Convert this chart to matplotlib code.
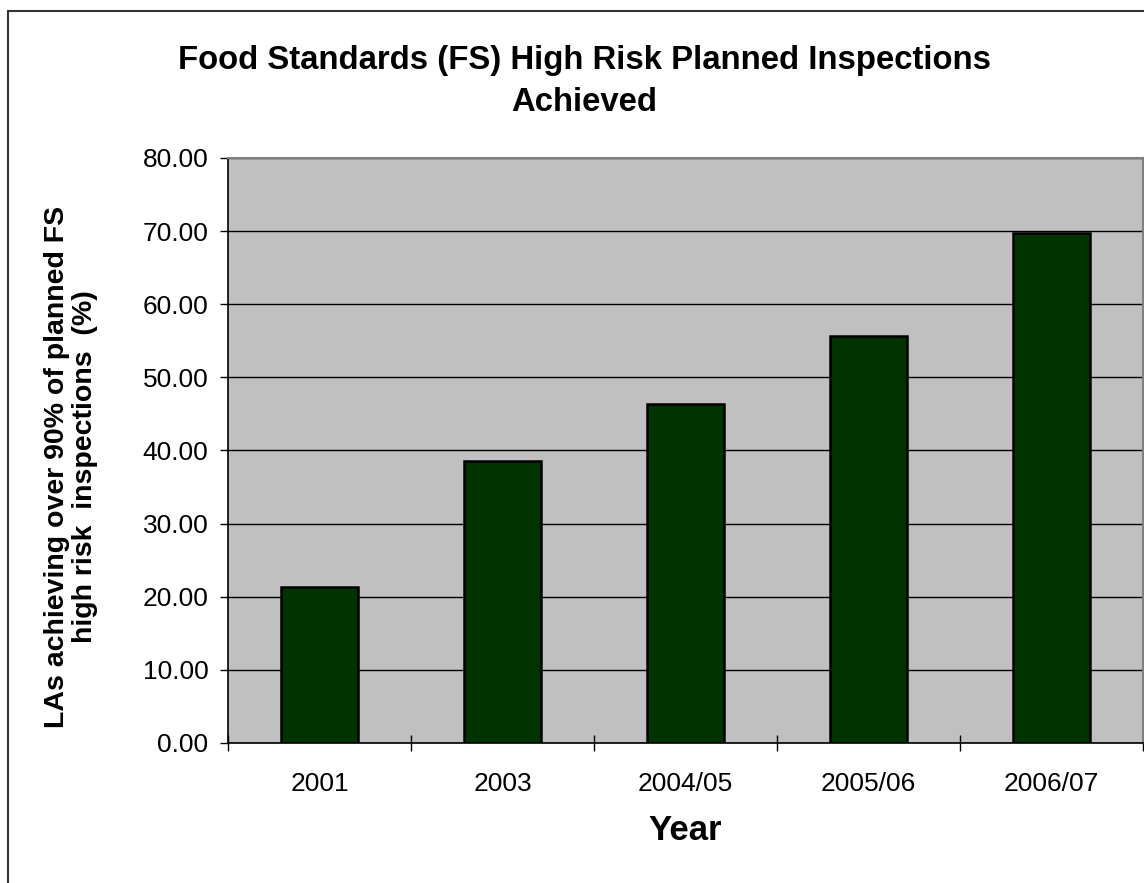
import matplotlib.pyplot as plt
from matplotlib.patches import Rectangle

plt.rcParams["font.family"] = ["Liberation Sans", "DejaVu Sans"]

# data
years = ["2001", "2003", "2004/05", "2005/06", "2006/07"]
pct = [21.3, 38.6, 46.4, 55.7, 69.8]

fig = plt.figure(figsize=(11.44, 8.83), dpi=100)
ax = fig.add_axes([0.1993, 0.1586, 0.7998, 0.6625])

# outer chart frame
fig.patches.append(Rectangle((8 / 1144, -0.1), 1.2, 1 - 11 / 883 + 0.1,
                             transform=fig.transFigure, fill=False,
                             edgecolor="#333333", linewidth=1.5))

ax.set_facecolor("#C0C0C0")
ax.bar(range(len(years)), pct, width=0.42, color="#003300",
       edgecolor="black", linewidth=1.8, zorder=3)

ax.set_ylim(0, 80)
ax.set_xlim(-0.5, len(years) - 0.5)
ax.set_yticks(range(0, 81, 10))
ax.set_yticklabels([f"{v:.2f}" for v in range(0, 81, 10)], fontsize=19)
ax.yaxis.grid(True, color="black", linewidth=1, zorder=1)
ax.set_axisbelow(True)

ax.set_xticks(range(len(years)))
ax.set_xticklabels(years, fontsize=19)
ax.tick_params(axis="x", which="major", length=0, pad=21)
ax.set_xticks([i - 0.5 for i in range(len(years) + 1)], minor=True)
ax.tick_params(axis="x", which="minor", length=11, width=1, color="black",
               direction="inout")
ax.tick_params(axis="y", length=6, width=1, direction="out", pad=8)

for s in ["left", "bottom"]:
    ax.spines[s].set_color("black")
    ax.spines[s].set_linewidth(1.2)
for s in ["top", "right"]:
    ax.spines[s].set_color("#808080")
    ax.spines[s].set_linewidth(1.5)

fig.text(0.511, 0.908, "Food Standards (FS) High Risk Planned Inspections\nAchieved",
         ha="center", va="center", fontsize=23.7, fontweight="bold", linespacing=1.45)
fig.text(0.0625, 0.471, "LAs achieving over 90% of planned FS\nhigh risk  inspections  (%)",
         ha="center", va="center", rotation=90, fontsize=20.5, fontweight="bold",
         linespacing=1.1)
ax.set_xlabel("Year", fontsize=25, fontweight="bold", labelpad=13)

fig.savefig("out.png", dpi=100)
